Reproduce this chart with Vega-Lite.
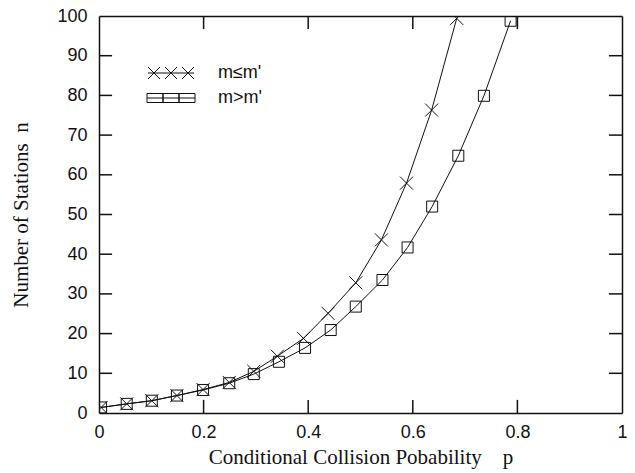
{
  "$schema": "https://vega.github.io/schema/vega-lite/v6.json",
  "width": 523,
  "height": 397,
  "autosize": "none",
  "padding": {"left": 99, "top": 16, "right": 13, "bottom": 60},
  "background": "white",
  "config": {
    "view": {"stroke": null},
    "axis": {
      "domainColor": "#111",
      "domainWidth": 1.5,
      "ticks": false,
      "grid": false,
      "labelFont": "Liberation Sans",
      "labelFontSize": 18,
      "labelColor": "#111",
      "titleFont": "Liberation Serif",
      "titleFontSize": 21,
      "titleFontWeight": "normal",
      "titleColor": "#111"
    },
    "legend": {
      "orient": "none",
      "title": null,
      "symbolSize": 64,
      "symbolStrokeWidth": 1,
      "symbolFillColor": "transparent",
      "labelFont": "Liberation Sans",
      "labelFontSize": 18,
      "labelColor": "#111",
      "labelOffset": 38,
      "padding": 0
    }
  },
  "data": {
    "values": [
      {"series": "m≤m'", "p": 0.004, "n": 1.4},
      {"series": "m≤m'", "p": 0.053, "n": 2.3},
      {"series": "m≤m'", "p": 0.101, "n": 3.1},
      {"series": "m≤m'", "p": 0.149, "n": 4.4},
      {"series": "m≤m'", "p": 0.199, "n": 5.9},
      {"series": "m≤m'", "p": 0.249, "n": 7.7},
      {"series": "m≤m'", "p": 0.296, "n": 10.5},
      {"series": "m≤m'", "p": 0.341, "n": 14.3},
      {"series": "m≤m'", "p": 0.391, "n": 18.8},
      {"series": "m≤m'", "p": 0.438, "n": 25.1},
      {"series": "m≤m'", "p": 0.491, "n": 32.8},
      {"series": "m≤m'", "p": 0.540, "n": 43.6},
      {"series": "m≤m'", "p": 0.588, "n": 57.9},
      {"series": "m≤m'", "p": 0.636, "n": 76.3},
      {"series": "m≤m'", "p": 0.684, "n": 99.4},
      {"series": "m>m'", "p": 0.004, "n": 1.4},
      {"series": "m>m'", "p": 0.053, "n": 2.3},
      {"series": "m>m'", "p": 0.101, "n": 3.1},
      {"series": "m>m'", "p": 0.149, "n": 4.4},
      {"series": "m>m'", "p": 0.199, "n": 5.8},
      {"series": "m>m'", "p": 0.249, "n": 7.5},
      {"series": "m>m'", "p": 0.296, "n": 9.8},
      {"series": "m>m'", "p": 0.344, "n": 12.9},
      {"series": "m>m'", "p": 0.394, "n": 16.4},
      {"series": "m>m'", "p": 0.443, "n": 20.9},
      {"series": "m>m'", "p": 0.491, "n": 26.8},
      {"series": "m>m'", "p": 0.542, "n": 33.5},
      {"series": "m>m'", "p": 0.590, "n": 41.7},
      {"series": "m>m'", "p": 0.637, "n": 52.0},
      {"series": "m>m'", "p": 0.687, "n": 64.8},
      {"series": "m>m'", "p": 0.736, "n": 79.9},
      {"series": "m>m'", "p": 0.787, "n": 98.8}
    ]
  },
  "layer": [
    {
      "mark": {"type": "line", "color": "#111", "strokeWidth": 1, "clip": true},
      "encoding": {
        "x": {
          "field": "p",
          "type": "quantitative",
          "scale": {"domain": [0, 1], "nice": false, "zero": false},
          "axis": {
            "orient": "bottom",
            "values": [0, 0.2, 0.4, 0.6, 0.8, 1],
            "format": "~g",
            "labelFlush": false,
            "labelPadding": 10,
            "title": "Conditional Collision Pobability\u00a0\u00a0\u00a0 p",
            "titlePadding": 5
          }
        },
        "y": {
          "field": "n",
          "type": "quantitative",
          "scale": {"domain": [0, 100], "nice": false},
          "axis": {
            "orient": "left",
            "values": [0, 10, 20, 30, 40, 50, 60, 70, 80, 90, 100],
            "labelPadding": 12,
            "title": "Number of Stations\u00a0 n",
            "titlePadding": 25
          }
        },
        "detail": {"field": "series"}
      }
    },
    {
      "transform": [{"filter": {"field": "series", "equal": "m≤m'"}}],
      "mark": {"type": "point", "filled": false, "strokeWidth": 1, "clip": true, "opacity": 1, "size": 169, "shape": "M-1,-1L1,1M-1,1L1,-1"},
      "encoding": {
        "x": {"field": "p", "type": "quantitative", "axis": {"orient": "top", "labels": false, "title": null}},
        "y": {"field": "n", "type": "quantitative", "axis": {"orient": "right", "labels": false, "title": null}},
        "color": {
          "field": "series",
          "type": "nominal",
          "scale": {"range": ["#111"]},
          "legend": {
            "legendX": 63,
            "legendY": 48,
            "symbolType": "M-5.75,0H5.75M-5.75,-1.5L-2.75,1.5M-5.75,1.5L-2.75,-1.5M-1.5,-1.5L1.5,1.5M-1.5,1.5L1.5,-1.5M2.75,-1.5L5.75,1.5M2.75,1.5L5.75,-1.5"
          }
        }
      }
    },
    {
      "transform": [{"filter": {"field": "series", "equal": "m>m'"}}],
      "mark": {"type": "point", "filled": false, "strokeWidth": 1, "clip": true, "opacity": 1, "size": 121, "shape": "M-1,-1H1V1H-1Z"},
      "encoding": {
        "x": {"field": "p", "type": "quantitative", "axis": null},
        "y": {"field": "n", "type": "quantitative", "axis": null},
        "color": {
          "field": "series",
          "type": "nominal",
          "scale": {"range": ["#111"]},
          "legend": {
            "legendX": 63,
            "legendY": 73,
            "symbolType": "M-6,0H6M-6,-1.125H-2V1.125H-6ZM-2,-1.125H2V1.125H-2ZM2,-1.125H6V1.125H2Z"
          }
        }
      }
    },
    {
      "data": {"values": [{"v": 0.2}, {"v": 0.4}, {"v": 0.6}, {"v": 0.8}]},
      "mark": {"type": "rule", "color": "#111", "strokeWidth": 1.5},
      "encoding": {
        "x": {"field": "v", "type": "quantitative", "axis": null},
        "y": {"datum": 0, "type": "quantitative", "axis": null},
        "y2": {"datum": 3.3}
      }
    },
    {
      "data": {"values": [{"v": 0.2}, {"v": 0.4}, {"v": 0.6}, {"v": 0.8}]},
      "mark": {"type": "rule", "color": "#111", "strokeWidth": 1.5},
      "encoding": {
        "x": {"field": "v", "type": "quantitative", "axis": null},
        "y": {"datum": 100, "type": "quantitative", "axis": null},
        "y2": {"datum": 96.7}
      }
    },
    {
      "data": {"values": [{"v": 10}, {"v": 20}, {"v": 30}, {"v": 40}, {"v": 50}, {"v": 60}, {"v": 70}, {"v": 80}, {"v": 90}]},
      "mark": {"type": "rule", "color": "#111", "strokeWidth": 1.5},
      "encoding": {
        "y": {"field": "v", "type": "quantitative", "axis": null},
        "x": {"datum": 0, "type": "quantitative", "axis": null},
        "x2": {"datum": 0.025}
      }
    },
    {
      "data": {"values": [{"v": 10}, {"v": 20}, {"v": 30}, {"v": 40}, {"v": 50}, {"v": 60}, {"v": 70}, {"v": 80}, {"v": 90}]},
      "mark": {"type": "rule", "color": "#111", "strokeWidth": 1.5},
      "encoding": {
        "y": {"field": "v", "type": "quantitative", "axis": null},
        "x": {"datum": 1, "type": "quantitative", "axis": null},
        "x2": {"datum": 0.975}
      }
    }
  ],
  "resolve": {
    "axis": {"x": "independent", "y": "independent"},
    "scale": {"color": "independent"},
    "legend": {"color": "independent"}
  }
}
